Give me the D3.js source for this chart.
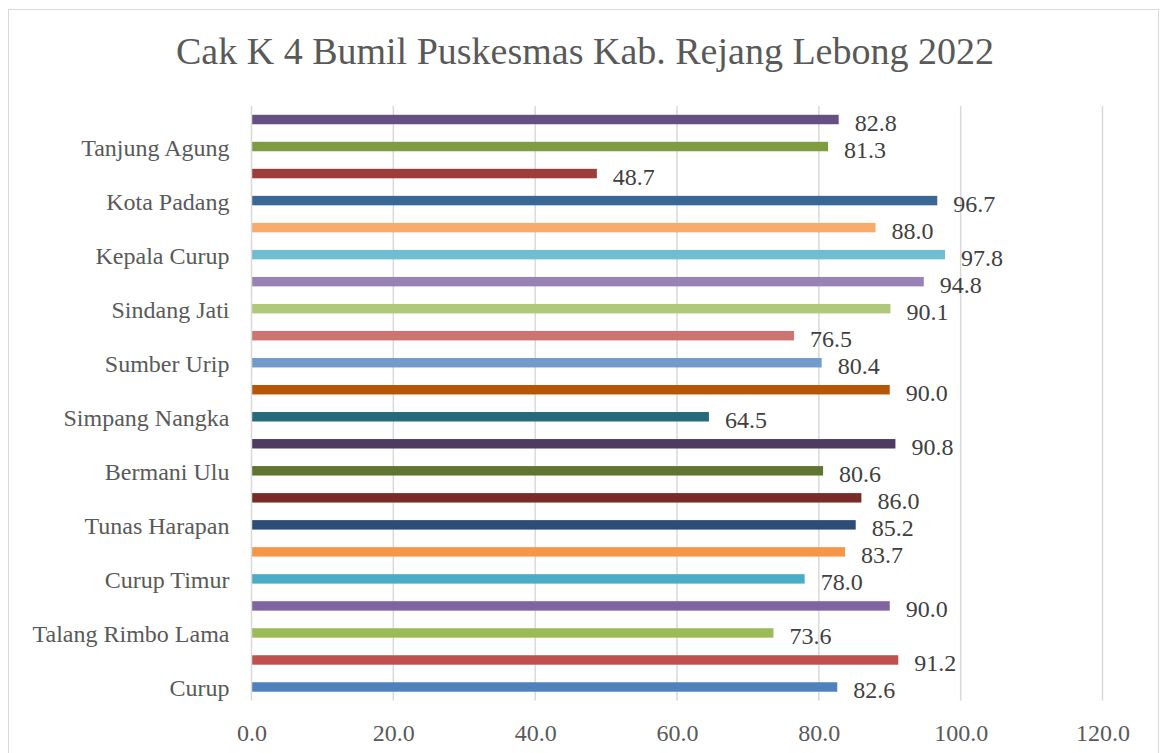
<!DOCTYPE html>
<html>
<head>
<meta charset="utf-8">
<script src="https://cdn.jsdelivr.net/npm/d3@7"></script>
<style>
  html, body { margin: 0; padding: 0; background: #fff; }
  svg { display: block; }
</style>
</head>
<body>
<svg id="chart" width="1160" height="753"></svg>
<script>
// Categories, bottom to top (only every other one is labelled in the original chart)
const categories = [
  "Curup", "Perumnas", "Talang Rimbo Lama", "Kampung Delima", "Curup Timur",
  "Karang Anyar", "Tunas Harapan", "Sambirejo", "Bermani Ulu", "Bermani Ulu Raya",
  "Simpang Nangka", "Padang Ulak Tanding", "Sumber Urip", "Selupu Rejang",
  "Sindang Jati", "Air Meles Bawah", "Kepala Curup", "Watas Marga",
  "Kota Padang", "Sindang Beliti Ilir", "Tanjung Agung", "Binduriang"
];
const values = [
  82.6, 91.2, 73.6, 90.0, 78.0, 83.7, 85.2, 86.0, 80.6, 90.8, 64.5,
  90.0, 80.4, 76.5, 90.1, 94.8, 97.8, 88.0, 96.7, 48.7, 81.3, 82.8
];
const barColors = [
  "#4F81BD", "#C0504D", "#9BBB59", "#8064A2", "#4BACC6", "#F79646",
  "#2C4D75", "#772C2A", "#5F7530", "#4D3B62", "#276A7C", "#B65708",
  "#729ACA", "#CD7371", "#AFC97A", "#9983B5", "#6FBDD1", "#F9AB6B",
  "#3A6796", "#9C3D3A", "#7E9D40", "#664F83"
];
const xTicks = [0, 20, 40, 60, 80, 100, 120];
const title = "Cak K 4 Bumil Puskesmas Kab. Rejang Lebong 2022";

const svg = d3.select("#chart");
const font = "'Liberation Serif', 'Times New Roman', serif";

// chart frame
svg.append("rect")
  .attr("x", 8.5).attr("y", 9.5)
  .attr("width", 1150).attr("height", 760)
  .attr("fill", "#fff").attr("stroke", "#d9d9d9").attr("stroke-width", 1);

const x = d3.scaleLinear().domain([0, 120]).range([251.5, 1102.5]);
const y = d3.scaleBand().domain(categories.slice().reverse()).range([106, 700.5]).paddingInner(0.65).paddingOuter(0.325);

// title
svg.append("text")
  .attr("x", 585).attr("y", 64)
  .attr("text-anchor", "middle")
  .attr("font-family", font).attr("font-size", 38)
  .attr("fill", "#595959")
  .text(title);

// gridlines
svg.append("g").selectAll("line").data(xTicks.filter(d => d > 0)).join("line")
  .attr("x1", d => x(d)).attr("x2", d => x(d))
  .attr("y1", 106).attr("y2", 700.5)
  .attr("stroke", "#d9d9d9").attr("stroke-width", 1.5);

// x axis labels
const xAxis = d3.axisBottom(x).tickValues(xTicks).tickFormat(d3.format(".1f")).tickSize(0).tickPadding(0);
const gx = svg.append("g").attr("transform", "translate(0,700.5)").call(xAxis);
gx.select(".domain").remove();
gx.selectAll("text")
  .attr("y", 40).attr("dy", null)
  .attr("font-family", font).attr("font-size", 24).attr("fill", "#595959");

// bars
svg.append("g").selectAll("rect").data(values).join("rect")
  .attr("x", x(0))
  .attr("y", (d, i) => y(categories[i]))
  .attr("width", d => x(d) - x(0))
  .attr("height", y.bandwidth())
  .attr("fill", (d, i) => barColors[i]);

// category axis
const yAxis = d3.axisLeft(y).tickSize(0).tickPadding(22)
  .tickFormat((d) => categories.indexOf(d) % 2 === 0 ? d : "");
const gy = svg.append("g").attr("transform", `translate(${x(0)},0)`).call(yAxis);
gy.select(".domain").attr("stroke", "#d9d9d9").attr("stroke-width", 1.5)
  .attr("d", `M0,106V700.5`);
gy.selectAll("text")
  .attr("font-family", font).attr("font-size", 24).attr("fill", "#595959")
  .attr("dy", 9);

// data labels
svg.append("g").selectAll("text").data(values).join("text")
  .attr("x", d => x(d) + 16)
  .attr("y", (d, i) => y(categories[i]) + y.bandwidth() / 2 + 11)
  .attr("font-family", font).attr("font-size", 24)
  .attr("fill", "#404040")
  .text(d => d.toFixed(1));
</script>
</body>
</html>
